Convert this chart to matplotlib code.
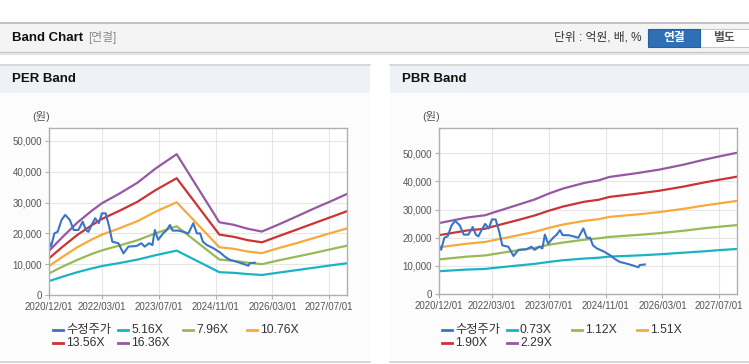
import matplotlib
matplotlib.use("Agg")
import matplotlib.pyplot as plt
from matplotlib.patches import Rectangle, FancyBboxPatch
from matplotlib.lines import Line2D
from matplotlib.ticker import FuncFormatter, MultipleLocator
import pandas as pd

plt.rcParams['font.family'] = ['Liberation Sans', 'Noto Sans CJK KR', 'DejaVu Sans']

# ---------------- data ----------------
price_dates = ["2020-12-01", "2020-12-19", "2021-01-16", "2021-02-13", "2021-03-19", "2021-04-19",
               "2021-05-28", "2021-07-01", "2021-08-10", "2021-09-16", "2021-10-13", "2021-11-04",
               "2021-12-01", "2022-01-01", "2022-02-01", "2022-02-28", "2022-04-01", "2022-05-01",
               "2022-05-28", "2022-07-19", "2022-09-01", "2022-10-13", "2022-12-22", "2023-02-01",
               "2023-03-01", "2023-04-10", "2023-05-07", "2023-05-28", "2023-06-25", "2023-08-07",
               "2023-09-07", "2023-10-04", "2023-10-28", "2023-12-16", "2024-01-28", "2024-03-10",
               "2024-04-22", "2024-05-22", "2024-06-19", "2024-07-13", "2024-08-16", "2024-10-10",
               "2024-12-07", "2025-01-19", "2025-03-01", "2025-04-28", "2025-06-25", "2025-08-07",
               "2025-08-19", "2025-10-01"]
price = [17300, 15700, 20000, 20500, 24400, 26000,
         24400, 21100, 21100, 23800, 21100, 20500,
         22700, 24900, 23300, 26500, 26500, 22200,
         17300, 16800, 13500, 15700, 15900, 16800,
         15700, 16800, 16200, 21100, 17900, 20000,
         21100, 22700, 20900, 20900, 20500, 20000,
         23300, 20000, 20000, 17300, 16200, 15200,
         13800, 12400, 11400, 10800, 10100, 9500,
         10300, 10500]

per_dates = ["2020-12-01", "2021-04-01", "2021-08-01", "2021-12-01", "2022-03-01", "2022-08-01",
             "2023-01-01", "2023-06-01", "2023-12-01", "2024-12-01", "2025-04-01", "2025-08-01",
             "2025-12-01", "2026-05-01", "2026-10-01", "2027-03-01", "2027-08-01", "2027-12-01"]
per_labels = ["5.16X", "7.96X", "10.76X", "13.56X", "16.36X"]
per_516 = [4500, 6000, 7400, 8600, 9400, 10400, 11500, 12900, 14400, 7400, 7200, 6800, 6500, 7300, 8100, 8900, 9700, 10300]
per_796 = [7000, 9300, 11400, 13300, 14500, 16100, 17800, 20000, 22300, 11500, 11100, 10500, 10000, 11300, 12500, 13700, 15000, 16000]
per_1076 = [9400, 12500, 15500, 18000, 19600, 21700, 24000, 27000, 30100, 15500, 15000, 14100, 13600, 15300, 16900, 18600, 20300, 21600]
per_1356 = [11900, 15800, 19500, 22600, 24700, 27400, 30300, 34000, 37900, 19600, 18900, 17800, 17100, 19200, 21300, 23400, 25500, 27200]
per_1636 = [14300, 19000, 23500, 27300, 29800, 33000, 36500, 41000, 45700, 23600, 22800, 21500, 20600, 23000, 25600, 28200, 30700, 32800]

pbr_dates = ["2020-12-01", "2021-08-01", "2022-01-01", "2022-03-01", "2022-10-01", "2023-03-01",
             "2023-07-01", "2023-11-01", "2024-05-01", "2024-09-01", "2024-12-01", "2025-08-01",
             "2026-02-01", "2026-09-01", "2027-03-01", "2027-07-01", "2027-12-01"]
pbr_labels = ["0.73X", "1.12X", "1.51X", "1.90X", "2.29X"]
pbr_073 = [8100, 8700, 8900, 9200, 10100, 10700, 11400, 12000, 12600, 12900, 13300, 13700, 14100, 14700, 15200, 15600, 16000]
pbr_112 = [12300, 13300, 13700, 14100, 15500, 16400, 17500, 18300, 19300, 19800, 20300, 21000, 21600, 22500, 23400, 23900, 24500]
pbr_151 = [16600, 17900, 18500, 19000, 20800, 22100, 23500, 24700, 26000, 26600, 27400, 28300, 29100, 30300, 31500, 32200, 33100]
pbr_190 = [20900, 22600, 23200, 23900, 26200, 27900, 29600, 31100, 32800, 33500, 34500, 35700, 36700, 38200, 39700, 40600, 41700]
pbr_229 = [25200, 27200, 28000, 28800, 31600, 33600, 35700, 37500, 39500, 40400, 41600, 43000, 44200, 46000, 47800, 48900, 50200]

tick_dates = ["2020-12-01", "2022-03-01", "2023-07-01", "2024-11-01", "2026-03-01", "2027-07-01"]
price_label = "수정주가"

colors = ["#3875c5", "#1ab3c4", "#98b954", "#f7a93a", "#cc3333", "#9657a3"]

# ---------------- figure ----------------
W, H = 749, 364
fig = plt.figure(figsize=(W / 100, H / 100), dpi=100)
fig.patch.set_facecolor("white")


def fx(x):
    return x / W


def fy(y):
    return 1 - y / H


def rect(x0, y0, x1, y1, z=-10, **kw):
    fig.add_artist(Rectangle((fx(x0), fy(y1)), (x1 - x0) / W, (y1 - y0) / H,
                             transform=fig.transFigure, zorder=z, **kw))


def hline(x0, x1, y, color, lw=1.0, z=-5):
    fig.add_artist(Line2D([fx(x0), fx(x1)], [fy(y), fy(y)], transform=fig.transFigure,
                          color=color, lw=lw, zorder=z))


# top header bar
rect(0, 22, W, 52, facecolor="#f4f4f4", edgecolor="none")
hline(0, W, 22.5, "#b8b8b8", 1.2)
hline(0, W, 52, "#c8c8c8", 1.0)
hline(0, W, 53.5, "#e4e4e4", 1.5)
fig.text(fx(12), fy(38), "Band Chart", fontsize=9.5, fontweight="bold", color="#111111", va="center", ha="left")
fig.text(fx(88), fy(38), "[연결]", fontsize=8.5, color="#8a8a8a", va="center", ha="left")
fig.text(fx(642), fy(38), "단위 : 억원, 배, %", fontsize=8.5, color="#333333", va="center", ha="right")
rect(700, 29, 752, 47, z=1, facecolor="white", edgecolor="#c8c8c8", lw=0.8)
rect(648, 29, 700, 47, z=1, facecolor="#2f6fb6", edgecolor="#285f9e", lw=0.8)
fig.text(fx(674), fy(38), "연결", fontsize=8.5, fontweight="bold", color="white", va="center", ha="center")
fig.text(fx(724), fy(38), "별도", fontsize=8.5, fontweight="bold", color="#555555", va="center", ha="center")

# panels
for (px0, px1, title) in [(0, 370, "PER Band"), (390, W, "PBR Band")]:
    rect(px0, 64, px1, 362, facecolor="#fcfcfc", edgecolor="none")
    rect(px0, 64, px1, 93, facecolor="#eef1f6", edgecolor="none")
    hline(px0, px1, 64.5, "#d4d4d4", 1.2)
    hline(px0, px1, 362, "#d0d0d0", 1.2)
    fig.text(fx(px0 + 12), fy(79.5), title, fontsize=9.5, fontweight="bold", color="#111111", va="center", ha="left")


def fmt(v, pos):
    return f"{int(v):,}"


def make_axes(left, right, top, bottom, ymax, band_dates, bands, band_labels, leg_cols):
    ax = fig.add_axes([fx(left), fy(bottom), (right - left) / W, (bottom - top) / H])
    ax.set_facecolor("white")
    bd = pd.to_datetime(band_dates)
    for vals, c in zip(bands, colors[1:]):
        ax.plot(bd, vals, color=c, lw=1.6, solid_joinstyle="round")
    ax.plot(pd.to_datetime(price_dates), price, color=colors[0], lw=1.5, solid_joinstyle="round")
    ax.set_xlim(pd.Timestamp("2020-12-01"), pd.Timestamp("2027-12-01"))
    ax.set_ylim(0, ymax)
    ax.yaxis.set_major_locator(MultipleLocator(10000))
    ax.yaxis.set_major_formatter(FuncFormatter(fmt))
    ax.set_xticks(pd.to_datetime(tick_dates))
    ax.set_xticklabels([d.replace("-", "/") for d in tick_dates])
    ax.grid(True, color="#e6e6e6", lw=0.8)
    ax.set_axisbelow(True)
    for s in ax.spines.values():
        s.set_color("#b0b0b0")
        s.set_linewidth(1.0)
    ax.tick_params(axis="both", colors="#b0b0b0", labelcolor="#555555", labelsize=7, length=3, width=0.8)
    ax.tick_params(axis="x", pad=2)
    ax.tick_params(axis="y", pad=2)
    fig.text(fx(left - 8), fy(117), "(원)", fontsize=8, color="#555555", va="center", ha="center")
    # legend
    labels = [price_label] + band_labels
    for i, (lab, c) in enumerate(zip(labels, colors)):
        col, row = i % 4, i // 4
        x0 = leg_cols[col]
        y0 = 330 + row * 13
        fig.add_artist(Line2D([fx(x0), fx(x0 + 10)], [fy(y0), fy(y0)], transform=fig.transFigure,
                              color=c, lw=2))
        fig.text(fx(x0 + 13), fy(y0), lab, fontsize=8.8, color="#333333", va="center", ha="left")
    return ax


make_axes(49, 347, 128.3, 295, 54100, per_dates,
          [per_516, per_796, per_1076, per_1356, per_1636], per_labels, [53, 118, 183, 247])
make_axes(439, 737, 128.3, 294, 58900, pbr_dates,
          [pbr_073, pbr_112, pbr_151, pbr_190, pbr_229], pbr_labels, [442, 507, 572, 637])

fig.savefig("out.png", dpi=100, facecolor="white")
